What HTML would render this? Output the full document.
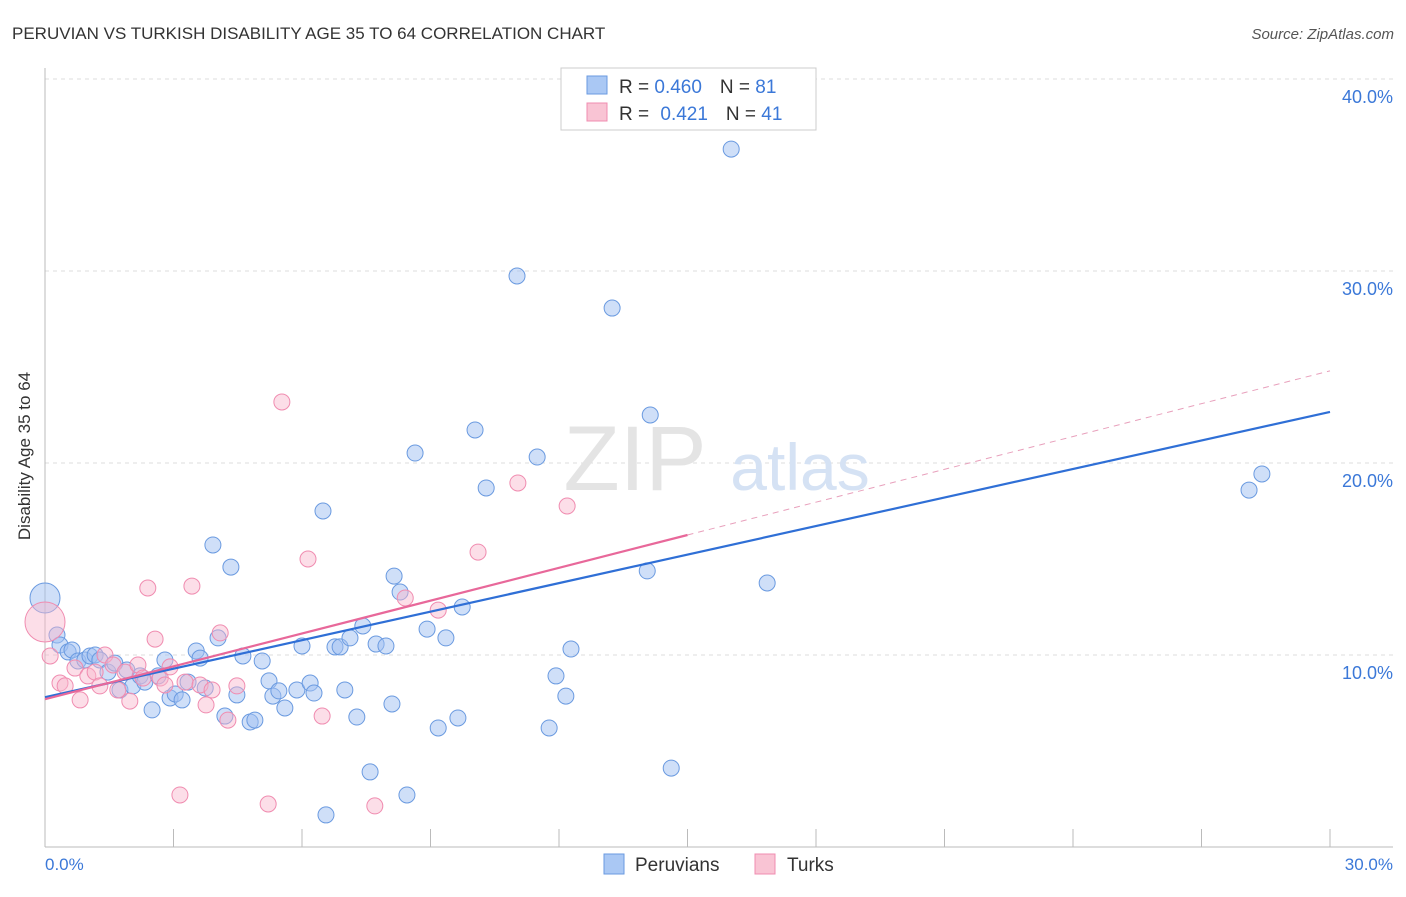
<!DOCTYPE html>
<html><head><meta charset="utf-8"><style>
body{margin:0;background:#fff;font-family:"Liberation Sans",sans-serif}
svg text{font-family:"Liberation Sans",sans-serif}
</style></head><body>
<svg width="1406" height="892">
<text x="12" y="39" font-size="17" fill="#333">PERUVIAN VS TURKISH DISABILITY AGE 35 TO 64 CORRELATION CHART</text>
<text x="1394" y="39" font-size="15" fill="#555" text-anchor="end" font-style="italic">Source: ZipAtlas.com</text>
<g id="grid"></g>
<g><text x="635" y="490" font-size="92" fill="#e4e4e4" font-family="Liberation Serif" text-anchor="middle">ZIP</text><text x="800" y="490" font-size="66" fill="#d5e2f4" text-anchor="middle">atlas</text></g>
<line x1="45" y1="68" x2="45" y2="847" stroke="#bbb"/>
<line x1="45" y1="847" x2="1393" y2="847" stroke="#bbb"/>
<g id="xticks"></g>
<text x="30" y="456" font-size="17" fill="#333" text-anchor="middle" transform="rotate(-90 30 456)">Disability Age 35 to 64</text>
<text x="45" y="870" font-size="17" fill="#3b78d8">0.0%</text>
<text x="1393" y="870" font-size="17" fill="#3b78d8" text-anchor="end">30.0%</text>
<g id="pts"></g>
<g id="lines"></g>
<g>
<rect x="561" y="68" width="255" height="62" fill="#fff" stroke="#ccc"/>
<rect x="587" y="76" width="20" height="18" fill="#aac8f4" stroke="#6a9ae0"/>
<rect x="587" y="103" width="20" height="18" fill="#f9c4d4" stroke="#f08cb0"/>
<text x="619" y="93" font-size="19" fill="#333">R = <tspan fill="#3b78d8">0.460</tspan><tspan dx="18">N = </tspan><tspan fill="#3b78d8">81</tspan></text>
<text x="619" y="120" font-size="19" fill="#333">R = <tspan dx="6" fill="#3b78d8">0.421</tspan><tspan dx="18">N = </tspan><tspan fill="#3b78d8">41</tspan></text>
</g>
<g>
<rect x="604" y="854" width="20" height="20" fill="#aac8f4" stroke="#6a9ae0"/>
<text x="635" y="871" font-size="19" fill="#333">Peruvians</text>
<rect x="755" y="854" width="20" height="20" fill="#f9c4d4" stroke="#f08cb0"/>
<text x="787" y="871" font-size="19" fill="#333">Turks</text>
</g>
</svg>
<script>
const yTicks=[10,20,30,40];
const yTickLabels=["10.0%","20.0%","30.0%","40.0%"];
const xTicks=[0,3,6,9,12,15,18,21,24,27,30];
const blueX=[0,0.28,0.35,0.54,0.63,0.77,0.93,1.05,1.17,1.28,1.47,1.63,1.75,1.91,2.05,2.22,2.33,2.5,2.64,2.8,2.92,3.04,3.2,3.34,3.53,3.62,3.74,3.92,4.04,4.2,4.34,4.48,4.62,4.79,4.9,5.07,5.23,5.32,5.46,5.6,5.88,6,6.19,6.28,6.49,6.56,6.77,6.89,7,7.12,7.28,7.42,7.59,7.73,7.96,8.1,8.15,8.29,8.45,8.64,8.92,9.18,9.36,9.64,9.74,10.04,10.3,11.02,11.49,11.77,11.93,12.16,12.28,13.24,14.06,14.13,14.62,16.02,16.86,28.11,28.41];
const blueY=[12.97,11.04,10.52,10.16,10.26,9.69,9.74,9.95,10,9.74,9.11,9.58,8.18,9.22,8.39,8.91,8.59,7.14,8.91,9.74,7.76,7.97,7.66,8.59,10.21,9.84,8.28,15.73,10.89,6.82,14.58,7.92,9.95,6.51,6.61,9.69,8.65,7.86,8.13,7.24,8.18,10.47,8.54,8.02,17.5,1.67,10.42,10.42,8.18,10.89,6.77,11.51,3.91,10.57,10.47,7.45,14.11,13.28,2.71,20.52,11.35,6.2,10.89,6.72,12.5,21.72,18.7,29.74,20.31,6.2,8.91,7.86,10.31,28.07,14.38,22.5,4.11,36.35,13.75,18.59,19.43];
const pinkX=[0,0.12,0.35,0.47,0.7,0.82,1,1.17,1.28,1.4,1.59,1.7,1.87,1.98,2.17,2.29,2.4,2.57,2.69,2.8,2.92,3.15,3.27,3.43,3.62,3.76,3.9,4.09,4.27,4.48,5.21,5.53,6.14,6.47,7.7,8.41,9.18,10.11,11.04,12.19];
const pinkY=[11.72,9.95,8.54,8.39,9.32,7.66,8.91,9.11,8.39,10,9.48,8.18,9.11,7.6,9.48,8.8,13.49,10.83,8.8,8.44,9.38,2.71,8.59,13.59,8.44,7.4,8.18,11.15,6.61,8.39,2.24,23.18,15,6.82,2.14,12.97,12.34,15.36,18.96,17.76];
const blueFit=[7.8,22.66];
const pinkFit=[7.7,24.8];
const pinkSolidEnd=15;
const NS="http://www.w3.org/2000/svg";
const X=v=>45+v*(1285/30);
const Y=v=>847-v*19.2;
function mk(t,a,p){const e=document.createElementNS(NS,t);for(const k in a)e.setAttribute(k,a[k]);p.appendChild(e);return e;}
const grid=document.getElementById('grid');
yTicks.forEach((t,i)=>{
 const l=mk('line',{x1:45,x2:1393,y1:Y(t),y2:Y(t),stroke:'#ddd','stroke-dasharray':'4 4'},grid);
 
 
 const tx=mk('text',{x:1393,y:Y(t)+24,'font-size':18,fill:'#3b78d8','text-anchor':'end'},grid);
 tx.textContent=yTickLabels[i];
 
 
});
const xt=document.getElementById('xticks');
xTicks.forEach(t=>{
 const l=mk('line',{x1:X(t),x2:X(t),y1:829,y2:847,stroke:'#bbb'},xt);
 
 
});
const pts=document.getElementById('pts');
blueX.forEach((x,i)=>{
 const c=mk('circle',{cx:X(x),cy:Y(blueY[i]),r:i===0?15:8,fill:'rgba(160,192,242,0.5)',stroke:'#6a9ae0','stroke-width':1},pts);
 
 
});
pinkX.forEach((x,i)=>{
 const c=mk('circle',{cx:X(x),cy:Y(pinkY[i]),r:i===0?20:8,fill:'rgba(248,182,204,0.45)',stroke:'#f08cb0','stroke-width':1},pts);
 
 
});
const ln=document.getElementById('lines');
const pf=x=>pinkFit[0]+(pinkFit[1]-pinkFit[0])*x/30;
const bl=mk('line',{x1:X(0),y1:Y(blueFit[0]),x2:X(30),y2:Y(blueFit[1]),stroke:'#2f6fd6','stroke-width':2.2},ln);


const pl=mk('line',{x1:X(0),y1:Y(pf(0)),x2:X(pinkSolidEnd),y2:Y(pf(pinkSolidEnd)),stroke:'#e8689a','stroke-width':2.2},ln);


const pd=mk('line',{x1:X(pinkSolidEnd),y1:Y(pf(pinkSolidEnd)),x2:X(30),y2:Y(pf(30)),stroke:'#e8a0bc','stroke-width':1,'stroke-dasharray':'6 5'},ln);


</script>
</body></html>
